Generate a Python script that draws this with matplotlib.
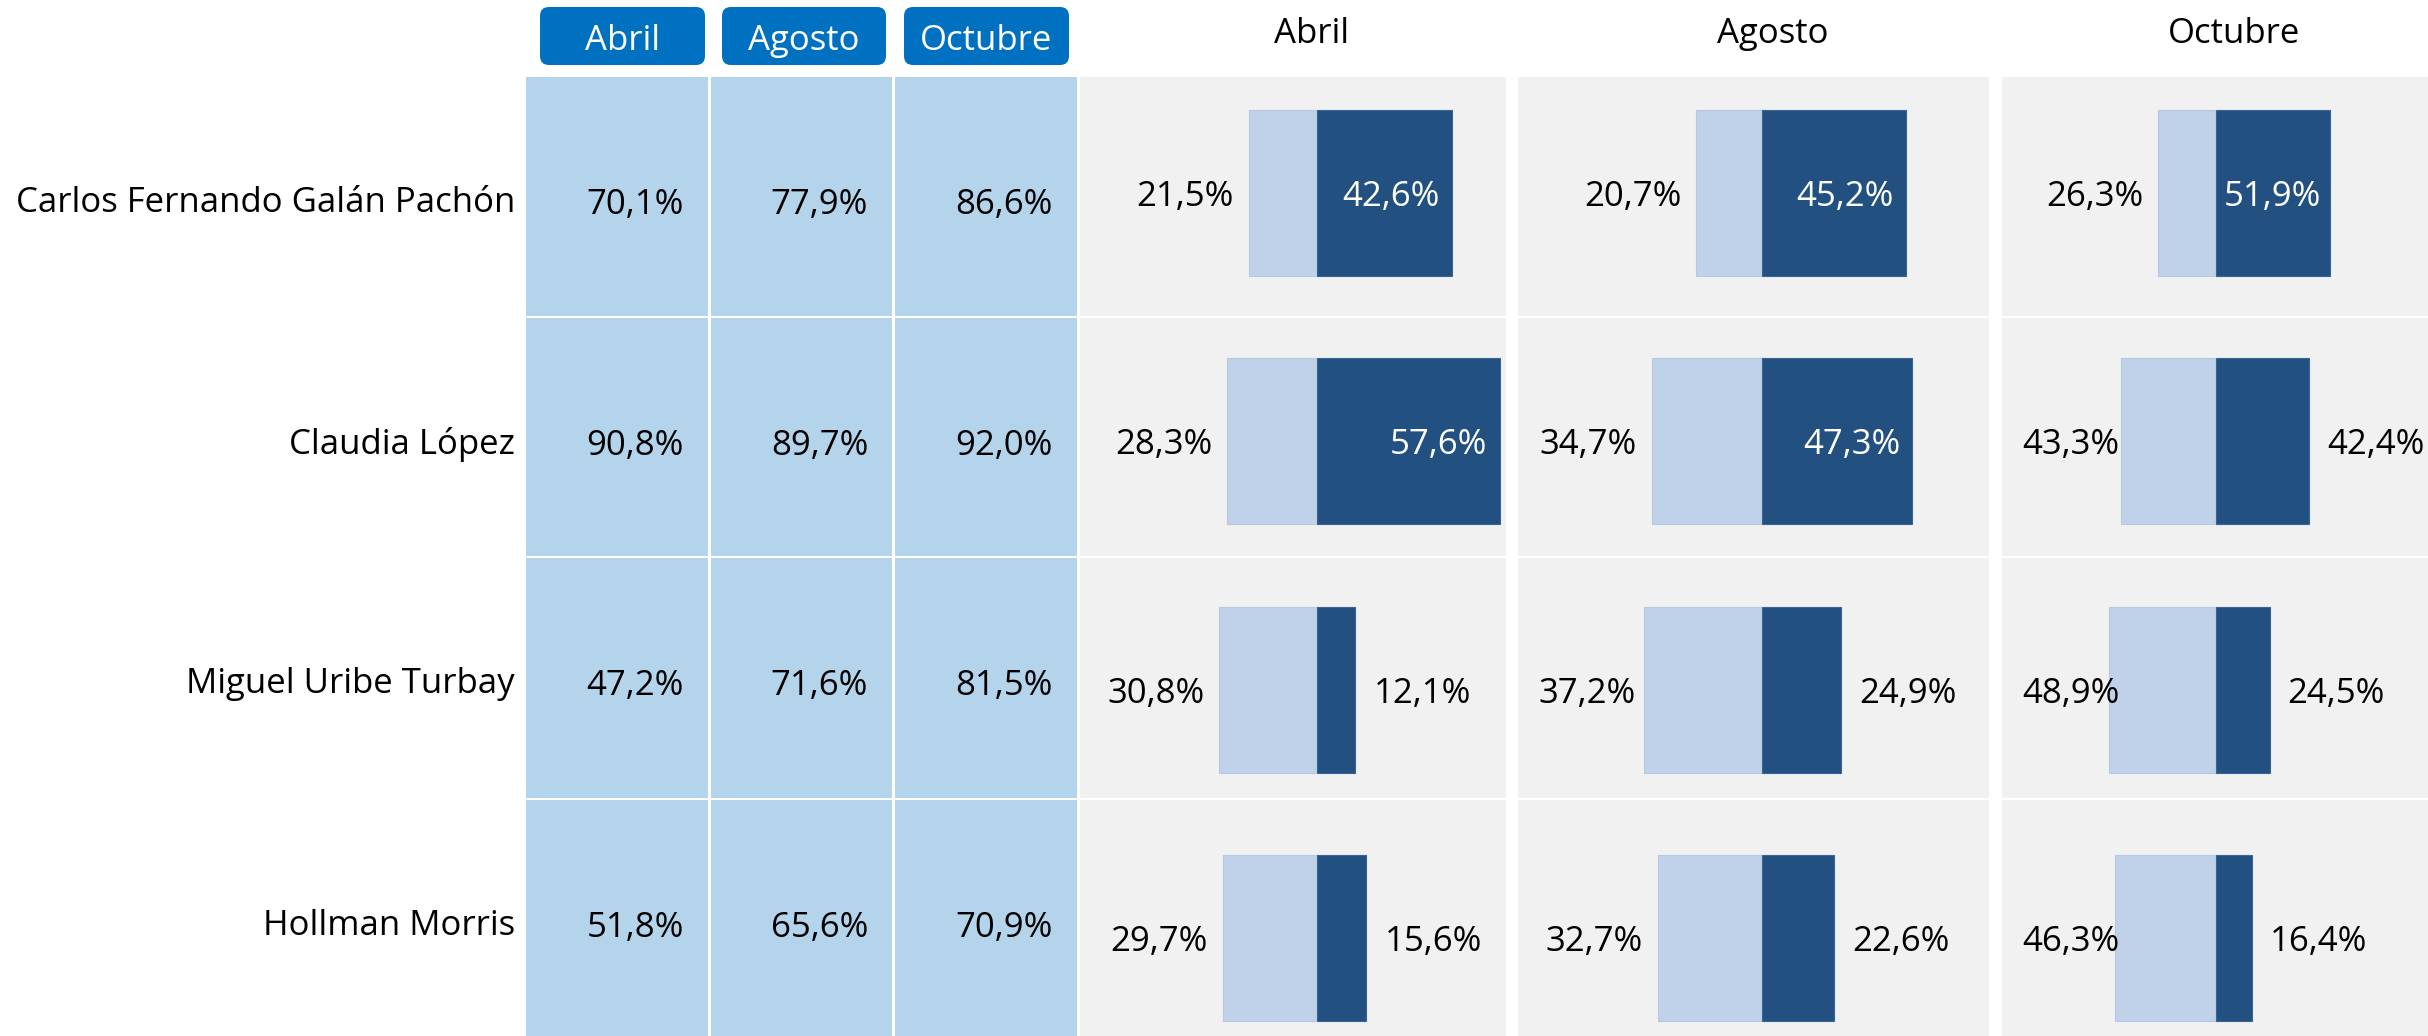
import matplotlib
matplotlib.use("Agg")
import matplotlib.pyplot as plt
from matplotlib.patches import Rectangle, FancyBboxPatch

# ---------------- data ----------------
candidatos = ["Carlos Fernando Galán Pachón", "Claudia López",
              "Miguel Uribe Turbay", "Hollman Morris"]
meses = ["Abril", "Agosto", "Octubre"]

conocimiento_abril = [70.1, 90.8, 47.2, 51.8]
conocimiento_agosto = [77.9, 89.7, 71.6, 65.6]
conocimiento_octubre = [86.6, 92.0, 81.5, 70.9]

desfavorable_abril = [21.5, 28.3, 30.8, 29.7]
desfavorable_agosto = [20.7, 34.7, 37.2, 32.7]
desfavorable_octubre = [26.3, 43.3, 48.9, 46.3]

favorable_abril = [42.6, 57.6, 12.1, 15.6]
favorable_agosto = [45.2, 47.3, 24.9, 22.6]
favorable_octubre = [51.9, 42.4, 24.5, 16.4]

conocimiento = [conocimiento_abril, conocimiento_agosto, conocimiento_octubre]
desfavorable = [desfavorable_abril, desfavorable_agosto, desfavorable_octubre]
favorable = [favorable_abril, favorable_agosto, favorable_octubre]

# ---------------- style / layout ----------------
W, H, DPI = 2428, 1036, 100
plt.rcParams['font.family'] = ['Open Sans', 'DejaVu Sans']
FS = 25
LIGHT = '#C0D2EA'
DARK = '#225181'
TABLE = '#B4D4EC'
GRAY = '#F1F1F1'
BTN = '#0070C0'

rows_px = [(77, 316), (318, 556), (558, 798), (800, 1036)]
tcols_px = [(526, 708), (711, 892), (895, 1077)]
buttons_px = [(540, 705), (722, 886), (904, 1069)]
panels_px = [(1080, 1506), (1518, 1989), (2002, 2428)]
split_px = [1317, 1762, 2216]
px_per_unit = [3.17, 3.18, 2.19]
bar_center0, bar_step, bar_h = 193, 248.3, 166


def fmt(v):
    return f"{v:.1f}%".replace(".", ",")


fig = plt.figure(figsize=(W / DPI, H / DPI), dpi=DPI)
bg = fig.add_axes([0, 0, 1, 1])
bg.set_xlim(0, W)
bg.set_ylim(H, 0)
bg.axis('off')

# table cells
for (r0, r1) in rows_px:
    for (c0, c1) in tcols_px:
        bg.add_patch(Rectangle((c0, r0), c1 - c0, r1 - r0, color=TABLE, lw=0))
    for (p0, p1) in panels_px:
        bg.add_patch(Rectangle((p0, r0), p1 - p0, r1 - r0, color=GRAY, lw=0))

# header buttons
for (b0, b1), m in zip(buttons_px, meses):
    bg.add_patch(FancyBboxPatch((b0, 7), b1 - b0, 58,
                                boxstyle="round,pad=0,rounding_size=9",
                                color=BTN, lw=0))
    bg.text((b0 + b1) / 2, 37, m, ha='center', va='center_baseline',
            color='white', fontsize=FS)

# row labels and table values
for i, (r0, r1) in enumerate(rows_px):
    yc = r0 + 122
    bg.text(515, yc, candidatos[i], ha='right', va='center_baseline',
            fontsize=FS, color='black')
    for k, (c0, c1) in enumerate(tcols_px):
        bg.text((c0 + c1) / 2 + 18, yc + 2, fmt(conocimiento[k][i]),
                ha='center', va='center_baseline', fontsize=FS, color='black')

# panel titles
for (p0, p1), m in zip(panels_px, meses):
    bg.text((p0 + p1) / 2 + 19, 30, m, ha='center', va='center_baseline',
            fontsize=FS, color='black')

renderer = fig.canvas.get_renderer()

# bar panels
y_top = 77
y_bot = 1036
ylim_top = (y_top - bar_center0) / bar_step
ylim_bot = (y_bot - bar_center0) / bar_step
for k in range(3):
    p0, p1 = panels_px[k]
    s = px_per_unit[k]
    ax = fig.add_axes([p0 / W, 0, (p1 - p0) / W, (y_bot - y_top) / H])
    ax.set_xlim(-(split_px[k] - p0) / s, (p1 - split_px[k]) / s)
    ax.set_ylim(ylim_bot, ylim_top)
    ax.axis('off')
    ax.patch.set_alpha(0)
    ys = list(range(len(candidatos)))
    neg = [-v for v in desfavorable[k]]
    ax.barh(ys, neg, height=bar_h / bar_step, color=LIGHT,
            edgecolor='#B5C9E3', lw=0.8)
    ax.barh(ys, favorable[k], height=bar_h / bar_step, color=DARK,
            edgecolor='#3A6494', lw=0.8)
    xmin = ax.get_xlim()[0]
    for j in ys:
        # light (left) label
        t = ax.text(0, j, fmt(desfavorable[k][j]), fontsize=FS,
                    va='center_baseline', color='black')
        w = t.get_window_extent(renderer).width / s
        right = -desfavorable[k][j] - 15 / s
        left = right - w
        if left < xmin + 20 / s:
            left = xmin + 20 / s
        t.set_x(left)
        t.set_ha('left')
        # dark (right) label
        t2 = ax.text(0, j, fmt(favorable[k][j]), fontsize=FS,
                     va='center_baseline')
        w2 = t2.get_window_extent(renderer).width
        barw = favorable[k][j] * s
        if w2 + 10 <= barw:
            pad = min(12, (barw - w2) / 2)
            t2.set_x(favorable[k][j] - pad / s)
            t2.set_ha('right')
            t2.set_color('white')
        else:
            t2.set_x(favorable[k][j] + 18 / s)
            t2.set_ha('left')
            t2.set_color('black')

fig.savefig("out.png", dpi=DPI)
